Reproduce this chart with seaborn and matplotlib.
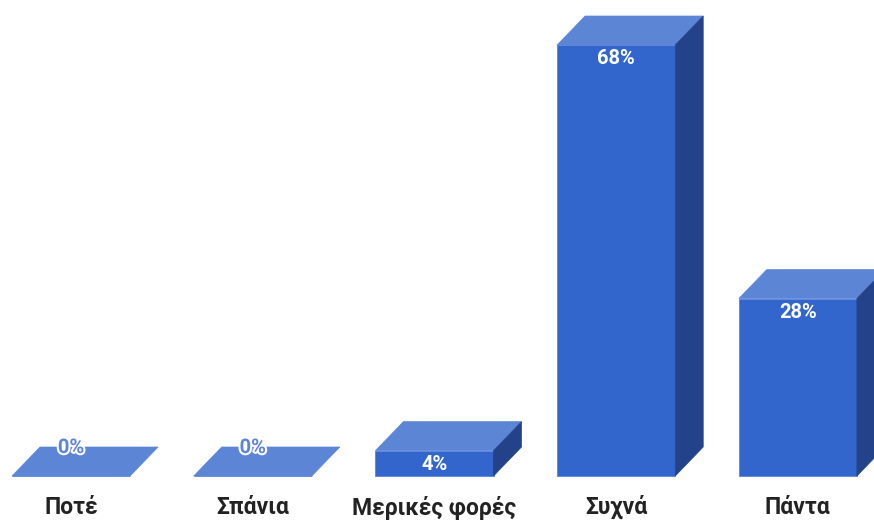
import matplotlib
matplotlib.use("Agg")
import matplotlib.pyplot as plt
import matplotlib.patheffects as pe
from matplotlib.patches import Polygon
import seaborn as sns
import pandas as pd

categories = ["Ποτέ", "Σπάνια", "Μερικές φορές", "Συχνά", "Πάντα"]
values = [0, 0, 4, 68, 28]
labels = ["0%", "0%", "4%", "68%", "28%"]

FRONT = "#3366CC"
TOP = "#5C85D6"
SIDE = "#24428A"

sns.set_theme(style="white")
plt.rcParams["font.family"] = ["Roboto", "DejaVu Sans"]

df = pd.DataFrame({"cat": categories, "val": values})

fig = plt.figure(figsize=(8.74, 5.2), dpi=100)
ax = fig.add_axes([0, 0, 1, 1])
sns.barplot(data=df, x="cat", y="val", color=FRONT, saturation=1, width=0.65,
            ax=ax, edgecolor="#5a82d8", linewidth=0.6)
ax.set_xlim(-0.391, 4.419)
ax.set_ylim(-6.94, 75.1)
ax.axis("off")

# depth offset in pixels -> data units
px_x = (ax.get_xlim()[1] - ax.get_xlim()[0]) / 874.0
px_y = (ax.get_ylim()[1] - ax.get_ylim()[0]) / 520.0
dx = 28 * px_x
dy = 29 * px_y

for i, (p, lab, v) in enumerate(zip(ax.patches, labels, values)):
    x0 = p.get_x()
    w = p.get_width()
    h = p.get_height()
    x1 = x0 + w
    top = Polygon([(x0, h), (x1, h), (x1 + dx, h + dy), (x0 + dx, h + dy)],
                  closed=True, facecolor=TOP, edgecolor=TOP, linewidth=0.5, zorder=3)
    ax.add_patch(top)
    if h > 0:
        side = Polygon([(x1, 0), (x1 + dx, dy), (x1 + dx, h + dy), (x1, h)],
                       closed=True, facecolor=SIDE, edgecolor=SIDE, linewidth=0.5, zorder=3)
        ax.add_patch(side)
    cx = x0 + w / 2
    if v > 0:
        ax.text(cx, h - 19 * px_y, lab, ha="center", va="baseline", color="white",
                fontsize=14.5, fontweight="bold", zorder=5)
    else:
        ax.text(cx, dy - 6 * px_y, lab, ha="center", va="baseline", color="#5C85D6",
                fontsize=14.5, fontweight="bold", zorder=5,
                path_effects=[pe.withStroke(linewidth=3, foreground="white")])
    ax.text(cx, -38 * px_y, categories[i], ha="center",
            va="baseline", color="#222222", fontsize=16.5, fontweight="bold")

fig.savefig("out.png", dpi=100)
